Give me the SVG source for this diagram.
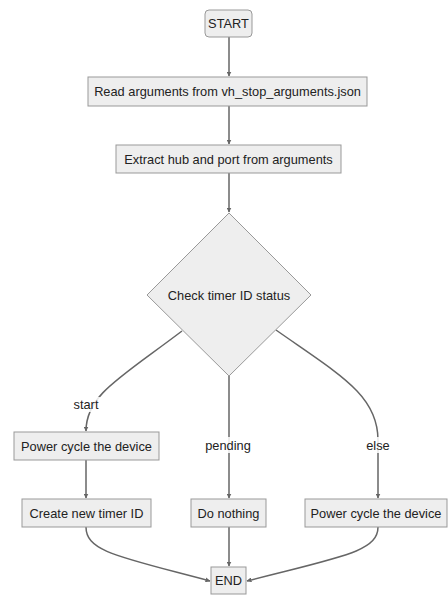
<svg xmlns="http://www.w3.org/2000/svg" width="448" height="595" viewBox="0 0 448 595">
  <style>
    .node rect, .node polygon { fill: #eeeeee; stroke: #999999; stroke-width: 1; }
    .node text, .lbl text { font-family: "Liberation Sans", Arial, sans-serif; font-size: 12.8px; fill: #222222; text-anchor: middle; dominant-baseline: central; }
    .edge { fill: none; stroke: #666666; stroke-width: 1.5; marker-end: url(#arrow); }
    .lbl rect { fill: #ffffff; opacity: 0.85; }
  </style>
  <defs>
    <marker id="arrow" viewBox="0 0 10 10" refX="9" refY="5" markerWidth="5" markerHeight="5" orient="auto" markerUnits="userSpaceOnUse">
      <path d="M0,0 L10,5 L0,10 z" fill="#666666"/>
    </marker>
  </defs>
  <rect width="448" height="595" fill="#ffffff"/>

  <g id="connectors">
    <path class="edge" d="M229,37 L229,76"/>
    <path class="edge" d="M229,106 L229,144"/>
    <path class="edge" d="M229,173 L229,212"/>
    <path class="edge" d="M182,331 C120,378 86,395 86,431"/>
    <path class="edge" d="M229,376 L229,498"/>
    <path class="edge" d="M276,330 C340,375 378,395 378,440 L378,498"/>
    <path class="edge" d="M86,460 L86,498"/>
    <path class="edge" d="M86,527 C86,552 120,557 210,581"/>
    <path class="edge" d="M229,527 L229,566"/>
    <path class="edge" d="M378,527 C378,552 340,557 247,581"/>
  </g>

  <g id="edge-labels">
    <g class="lbl"><rect x="72" y="397" width="28" height="15"/><text x="86" y="404">start</text></g>
    <g class="lbl"><rect x="205" y="437" width="46" height="16"/><text x="228" y="445">pending</text></g>
    <g class="lbl"><rect x="366" y="437" width="24" height="16"/><text x="378" y="445">else</text></g>
  </g>

  <g id="start" class="node"><rect x="205" y="10" width="47" height="27" rx="4" ry="4"/><text x="228.5" y="23.5">START</text></g>
  <g id="read-args" class="node"><rect x="88" y="77" width="279" height="29"/><text x="227.5" y="91.5">Read arguments from vh_stop_arguments.json</text></g>
  <g id="extract" class="node"><rect x="116" y="145" width="225" height="28"/><text x="228.5" y="159">Extract hub and port from arguments</text></g>
  <g id="check" class="node"><polygon points="229,213 311,295 229,376 147,295"/><text x="229" y="295">Check timer ID status</text></g>
  <g id="power-cycle-1" class="node"><rect x="14" y="432" width="145" height="28"/><text x="86.5" y="446">Power cycle the device</text></g>
  <g id="create-timer" class="node"><rect x="22" y="499" width="129" height="28"/><text x="86.5" y="513">Create new timer ID</text></g>
  <g id="do-nothing" class="node"><rect x="191" y="499" width="75" height="28"/><text x="228.5" y="513">Do nothing</text></g>
  <g id="power-cycle-2" class="node"><rect x="305" y="499" width="142" height="28"/><text x="376" y="513">Power cycle the device</text></g>
  <g id="end" class="node"><rect x="211" y="567" width="35" height="27"/><text x="228.5" y="580.5">END</text></g>
</svg>
